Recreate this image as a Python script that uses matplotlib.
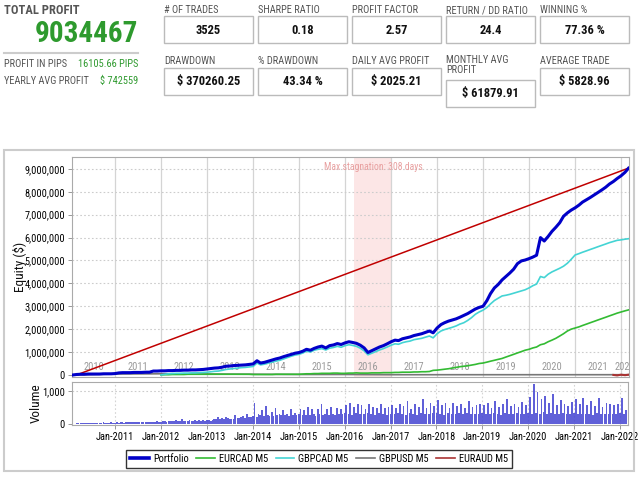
import matplotlib
matplotlib.use('Agg')
import matplotlib.pyplot as plt
import matplotlib.dates as mdates
import pandas as pd
from matplotlib.ticker import FuncFormatter
from matplotlib.patches import Rectangle
from matplotlib.lines import Line2D

plt.rcParams['font.family'] = ['Roboto Condensed', 'DejaVu Sans']
plt.rcParams['font.stretch'] = 'condensed'

# ---------------- data ----------------
total_profit = "9034467"
pips_profit = "16105.66 PIPS"
yearly_avg = "$ 742559"

stat_labels_top = ['# OF TRADES', 'SHARPE RATIO', 'PROFIT FACTOR', 'RETURN / DD RATIO', 'WINNING %']
stat_values_top = ['3525', '0.18', '2.57', '24.4', '77.36 %']
stat_labels_bot = ['DRAWDOWN', '% DRAWDOWN', 'DAILY AVG PROFIT', 'MONTHLY AVG\nPROFIT', 'AVERAGE TRADE']
stat_values_bot = ['$ 370260.25', '43.34 %', '$ 2025.21', '$ 61879.91', '$ 5828.96']

# Portfolio equity (millions $), monthly from Feb 2010 to Mar 2022
portfolio_start = '2010-02-01'
portfolio = [
    0.00, 0.02, 0.03, 0.03, 0.04, 0.04, 0.04, 0.04, 0.05, 0.05, 0.05,                # 2010
    0.06, 0.09, 0.10, 0.10, 0.10, 0.11, 0.11, 0.11, 0.12, 0.12, 0.17, 0.17,          # 2011
    0.18, 0.18, 0.19, 0.19, 0.20, 0.20, 0.21, 0.21, 0.22, 0.22, 0.23, 0.24,          # 2012
    0.26, 0.28, 0.30, 0.31, 0.34, 0.38, 0.39, 0.41, 0.42, 0.43, 0.44, 0.46,          # 2013
    0.48, 0.62, 0.52, 0.55, 0.60, 0.65, 0.70, 0.74, 0.80, 0.85, 0.90, 0.95,          # 2014
    0.98, 1.04, 1.12, 1.08, 1.16, 1.22, 1.26, 1.18, 1.28, 1.31, 1.37, 1.33,          # 2015
    1.40, 1.45, 1.42, 1.38, 1.30, 1.18, 0.98, 1.06, 1.14, 1.22, 1.28, 1.36,          # 2016
    1.45, 1.52, 1.50, 1.58, 1.62, 1.66, 1.72, 1.76, 1.80, 1.86, 1.92, 1.84,          # 2017
    2.05, 2.20, 2.28, 2.35, 2.40, 2.45, 2.52, 2.60, 2.68, 2.78, 2.88, 2.95,          # 2018
    3.00, 3.25, 3.55, 3.80, 3.95, 4.15, 4.30, 4.45, 4.62, 4.86, 4.98, 5.02,          # 2019
    5.08, 5.15, 5.23, 6.00, 5.85, 6.05, 6.27, 6.45, 6.65, 6.93, 7.08, 7.20,          # 2020
    7.30, 7.42, 7.55, 7.65, 7.75, 7.86, 7.97, 8.08, 8.20, 8.34, 8.45, 8.58,          # 2021
    8.70, 8.85, 9.03,                                                              # 2022
]

# GBPCAD M5 and EURCAD M5 (millions $), monthly from Jan 2012
strategy_start = '2012-01-01'
gbpcad = [
    0.00, 0.03, 0.05, 0.06, 0.07, 0.07, 0.08, 0.08, 0.09, 0.09, 0.10, 0.11,          # 2012
    0.12, 0.14, 0.16, 0.17, 0.20, 0.24, 0.26, 0.28, 0.30, 0.32, 0.33, 0.35,          # 2013
    0.37, 0.52, 0.44, 0.47, 0.52, 0.56, 0.60, 0.64, 0.70, 0.76, 0.82, 0.87,          # 2014
    0.90, 0.96, 1.04, 1.00, 1.08, 1.12, 1.15, 1.09, 1.17, 1.20, 1.25, 1.21,          # 2015
    1.28, 1.32, 1.29, 1.25, 1.17, 1.05, 0.88, 0.95, 1.02, 1.09, 1.15, 1.22,          # 2016
    1.30, 1.36, 1.34, 1.41, 1.45, 1.48, 1.54, 1.57, 1.60, 1.65, 1.70, 1.62,          # 2017
    1.80, 1.92, 1.98, 2.03, 2.08, 2.14, 2.22, 2.28, 2.38, 2.50, 2.65, 2.75,          # 2018
    2.83, 2.95, 3.10, 3.25, 3.35, 3.45, 3.48, 3.52, 3.57, 3.62, 3.67, 3.72,          # 2019
    3.80, 3.90, 3.97, 4.30, 4.25, 4.40, 4.50, 4.58, 4.66, 4.75, 4.88, 5.05,          # 2020
    5.24, 5.30, 5.36, 5.42, 5.48, 5.54, 5.60, 5.66, 5.72, 5.78, 5.83, 5.88,          # 2021
    5.90, 5.93, 5.95,                                                              # 2022
]
eurcad = [
    0.00, 0.01, 0.01, 0.02, 0.02, 0.02, 0.02, 0.03, 0.03, 0.03, 0.03, 0.03,          # 2012
    0.03, 0.03, 0.03, 0.03, 0.03, 0.03, 0.03, 0.03, 0.03, 0.03, 0.03, 0.03,          # 2013
    0.02, 0.02, 0.02, 0.02, 0.02, 0.02, 0.03, 0.03, 0.03, 0.03, 0.03, 0.03,          # 2014
    0.03, 0.04, 0.05, 0.05, 0.06, 0.06, 0.07, 0.07, 0.07, 0.08, 0.08, 0.07,          # 2015
    0.07, 0.08, 0.08, 0.09, 0.08, 0.08, 0.08, 0.09, 0.09, 0.09, 0.10, 0.10,          # 2016
    0.10, 0.11, 0.11, 0.12, 0.12, 0.12, 0.13, 0.13, 0.14, 0.14, 0.15, 0.20,          # 2017
    0.21, 0.23, 0.25, 0.27, 0.30, 0.33, 0.36, 0.38, 0.40, 0.43, 0.46, 0.50,          # 2018
    0.52, 0.56, 0.60, 0.64, 0.68, 0.72, 0.78, 0.84, 0.90, 0.96, 1.02, 1.08,          # 2019
    1.12, 1.18, 1.22, 1.32, 1.36, 1.45, 1.52, 1.60, 1.70, 1.80, 1.92, 2.00,          # 2020
    2.05, 2.10, 2.16, 2.22, 2.28, 2.34, 2.40, 2.46, 2.52, 2.58, 2.64, 2.70,          # 2021
    2.75, 2.80, 2.84,                                                              # 2022
]

# GBPUSD M5 (millions $), yearly
gbpusd_dates = ['2010-02-01', '2011-01-01', '2012-01-01', '2013-01-01', '2014-01-01',
                '2015-01-01', '2016-01-01', '2017-01-01', '2018-01-01', '2019-01-01',
                '2020-01-01', '2021-01-01', '2022-01-01', '2022-03-01']
gbpusd = [0.00, 0.04, 0.05, 0.04, 0.03, 0.02, 0.02, 0.01, 0.01, 0.01, 0.01, 0.01, 0.01, 0.01]

# EURAUD M5 (millions $)
euraud_dates = ['2021-11-01', '2021-12-01', '2022-01-01', '2022-02-01', '2022-03-01']
euraud = [0.00, -0.02, 0.01, -0.01, 0.01]

# ideal straight line
ideal_dates = ['2010-03-01', '2022-03-01']
ideal_values = [0.0, 9.034467]

stagnation = ('2016-03-10', '2017-01-12')
stagnation_text = 'Max stagnation: 308 days'

# Volume, semi-monthly from Mar 2010 to Feb 2022
volume_start = '2010-03-01'
volume = [
    30, 35, 30, 40, 35, 30, 40, 45, 35, 40, 30, 45, 40, 35, 50, 40, 45, 35, 50, 45,
    45, 50, 40, 55, 60, 45, 50, 65, 55, 50, 60, 70, 55, 60, 50, 65, 70, 60, 75, 65, 70, 60, 80, 75,
    70, 80, 90, 75, 85, 100, 80, 95, 110, 90, 85, 150, 95, 100, 90, 120, 105, 95, 130, 100, 110, 90, 120, 105,
    110, 120, 100, 130, 150, 140, 210, 160, 180, 150, 200, 170, 150, 140, 160, 280, 190, 170, 210, 250, 180, 300, 220, 200,
    250, 640, 200, 300, 260, 420, 230, 550, 280, 240, 350, 250, 480, 270, 300, 260, 420, 280, 310, 250, 450, 270, 330, 280,
    300, 450, 260, 430, 270, 520, 280, 460, 300, 250, 440, 290, 600, 270, 310, 460, 280, 520, 300, 260, 470, 290, 440, 310,
    320, 580, 300, 650, 280, 500, 330, 620, 300, 560, 290, 450, 340, 600, 310, 520, 280, 470, 330, 610, 300, 480, 270, 520,
    310, 560, 290, 480, 330, 620, 300, 540, 280, 700, 320, 460, 300, 590, 280, 520, 340, 760, 310, 470, 290, 650, 320, 540,
    330, 720, 300, 560, 280, 630, 320, 480, 310, 650, 290, 540, 330, 600, 300, 470, 320, 690, 290, 520, 310, 580, 300, 620,
    320, 560, 290, 650, 310, 480, 340, 700, 300, 520, 280, 600, 330, 760, 310, 540, 290, 620, 320, 500, 300, 680, 310, 560,
    330, 820, 300, 1200, 340, 980, 310, 760, 350, 860, 300, 640, 330, 900, 310, 580, 290, 720, 320, 620, 300, 540, 310, 680,
    320, 760, 300, 620, 290, 800, 310, 560, 300, 700, 280, 540, 320, 780, 300, 520, 290, 640, 310, 600, 300, 560, 290, 620,
    320, 780, 300, 420,
]

legend_labels = ['Portfolio', 'EURCAD M5', 'GBPCAD M5', 'GBPUSD M5', 'EURAUD M5']

# ---------------- figure ----------------
W, H = 640, 480
fig = plt.figure(figsize=(6.4, 4.8), dpi=100)
fig.patch.set_facecolor('white')

def fx(x):
    return x / W

def fy(y):
    return 1 - y / H

LABEL_C = '#555555'
GREEN_C = '#2f9a2f'

# header left block
fig.text(fx(4), fy(10), 'TOTAL PROFIT', fontsize=9, fontweight='bold', color='#555555', ha='left', va='center')
fig.text(fx(138), fy(34), total_profit, fontsize=21, fontweight='bold', color='#2e9a2e', ha='right', va='center')
fig.add_artist(Line2D([fx(4), fx(138)], [fy(53), fy(53)], color='#cccccc', lw=1.5, transform=fig.transFigure))
fig.text(fx(4), fy(64), 'PROFIT IN PIPS', fontsize=7.5, color=LABEL_C, ha='left', va='center')
fig.text(fx(138), fy(64), pips_profit, fontsize=7.5, color=GREEN_C, ha='right', va='center')
fig.text(fx(4), fy(81), 'YEARLY AVG PROFIT', fontsize=7.5, color=LABEL_C, ha='left', va='center')
fig.text(fx(138), fy(81), yearly_avg, fontsize=7.5, color=GREEN_C, ha='right', va='center')

box_x = [164, 258, 352, 446, 540]
box_w = 89
for i in range(5):
    x0 = box_x[i]
    # top row
    fig.text(fx(x0), fy(10), stat_labels_top[i], fontsize=7.5, color=LABEL_C, ha='left', va='center')
    fig.add_artist(Rectangle((fx(x0), fy(43)), box_w / W, 27 / H, transform=fig.transFigure,
                             facecolor='white', edgecolor='#bbbbbb', lw=1))
    fig.text(fx(x0 + box_w / 2), fy(30), stat_values_top[i], fontsize=9, fontweight='bold',
             color='#111111', ha='center', va='center')
    # bottom row
    if '\n' in stat_labels_bot[i]:
        fig.text(fx(x0), fy(55), stat_labels_bot[i], fontsize=7.5, color=LABEL_C, ha='left', va='top',
                 linespacing=1.05)
        top, bot = 80, 107
    else:
        fig.text(fx(x0), fy(61), stat_labels_bot[i], fontsize=7.5, color=LABEL_C, ha='left', va='center')
        top, bot = 68, 95
    fig.add_artist(Rectangle((fx(x0), fy(bot)), box_w / W, (bot - top) / H, transform=fig.transFigure,
                             facecolor='white', edgecolor='#bbbbbb', lw=1))
    fig.text(fx(x0 + box_w / 2), fy((top + bot) / 2), stat_values_bot[i], fontsize=9, fontweight='bold',
             color='#111111', ha='center', va='center')

# outer chart frame
fig.add_artist(Rectangle((fx(4), fy(471)), 630 / W, 321 / H, transform=fig.transFigure,
                         facecolor='none', edgecolor='#cccccc', lw=1.5))

# ---------------- main equity axes ----------------
ax = fig.add_axes([fx(72), fy(377), 557 / W, 220 / H])
xmin = pd.Timestamp('2010-01-24')
xmax = pd.Timestamp('2022-03-05')

p_dates = pd.date_range(portfolio_start, periods=len(portfolio), freq='MS')
s_dates = pd.date_range(strategy_start, periods=len(gbpcad), freq='MS')

ax.axvspan(pd.Timestamp(stagnation[0]), pd.Timestamp(stagnation[1]), color='#fce6e6', zorder=0, lw=0)
for yr in range(2011, 2023):
    ax.axvline(pd.Timestamp(f'{yr}-01-01'), color='#d4d4d4', lw=0.9, zorder=0.5)
for v in range(1, 10):
    ax.axhline(v, color='#cccccc', lw=0.8, ls=(0, (1.5, 2)), zorder=0.5)

ax.plot(pd.to_datetime(ideal_dates), ideal_values, color='#c00000', lw=1.1, zorder=2)
ax.plot(pd.to_datetime(gbpusd_dates), gbpusd, color='#777777', lw=1.2, zorder=2)
ax.plot(s_dates, eurcad, color='#33bb33', lw=1.2, zorder=3)
ax.plot(s_dates, gbpcad, color='#44d4d4', lw=1.2, zorder=3)
ax.plot(pd.to_datetime(euraud_dates), euraud, color='#aa3333', lw=1.5, zorder=3)
ax.plot(p_dates, portfolio, color='#0000c8', lw=2.2, zorder=4)

# year labels inside, centred on the visible part of each year
for yr in range(2010, 2023):
    a = max(pd.Timestamp(f'{yr}-01-01'), xmin)
    b = min(pd.Timestamp(f'{yr + 1}-01-01'), xmax)
    mid = a + (b - a) / 2
    ax.text(mid, 0.35, str(yr), fontsize=7.5, color='#999999', ha='center', va='center',
            clip_on=True, zorder=1)

ax.text(pd.Timestamp('2016-08-10'), 9.1, stagnation_text, fontsize=7, color='#e8a0a0',
        ha='center', va='center', zorder=1)

ax.set_xlim(xmin, xmax)
ax.set_ylim(-0.09, 9.52)
ax.set_yticks(range(0, 10))
ax.yaxis.set_major_formatter(FuncFormatter(lambda v, p: f'{v * 1e6:,.0f}'))
ax.tick_params(axis='y', labelsize=7.5, length=3, width=0.6, color='#888888', pad=2)
ax.tick_params(axis='x', bottom=False, labelbottom=False)
for s in ax.spines.values():
    s.set_color('#aaaaaa')
    s.set_linewidth(0.8)
fig.text(fx(20), fy(267), 'Equity ($)', rotation=90, fontsize=9.5, ha='center', va='center', color='#111111')

# ---------------- volume axes ----------------
ax2 = fig.add_axes([fx(72), fy(425), 556 / W, 43 / H])
v_dates = pd.date_range(volume_start, periods=len(volume), freq='SMS')
ax2.bar(v_dates, volume, width=14, color='#4444d2', alpha=0.85, lw=0, zorder=2)
for yr in range(2011, 2023):
    ax2.axvline(pd.Timestamp(f'{yr}-01-01'), color='#d4d4d4', lw=0.8, ls=(0, (1.5, 2)), zorder=0.5)
ax2.axhline(1000, color='#cccccc', lw=0.8, ls=(0, (1.5, 2)), zorder=0.5)
ax2.set_xlim(xmin, xmax)
ax2.set_ylim(-30, 1270)
ax2.set_yticks([0, 1000])
ax2.yaxis.set_major_formatter(FuncFormatter(lambda v, p: f'{v:,.0f}'))
ax2.set_xticks([pd.Timestamp(f'{yr}-01-01') for yr in range(2011, 2023)])
ax2.xaxis.set_major_formatter(mdates.DateFormatter('%b-%Y'))
ax2.tick_params(axis='both', labelsize=7.5, length=3, width=0.6, color='#888888', pad=2)
for s in ax2.spines.values():
    s.set_color('#aaaaaa')
    s.set_linewidth(0.8)
fig.text(fx(36), fy(403), 'Volume', rotation=90, fontsize=9.5, ha='center', va='center', color='#111111')

# legend
handles = [
    Line2D([], [], color='#0000c8', lw=2.6),
    Line2D([], [], color='#33bb33', lw=1.2),
    Line2D([], [], color='#44d4d4', lw=1.2),
    Line2D([], [], color='#777777', lw=1.2),
    Line2D([], [], color='#aa3333', lw=1.2),
]
leg = fig.legend(handles, legend_labels, loc='center', bbox_to_anchor=(fx(319), fy(459)), ncol=5,
                 frameon=True, fancybox=False, fontsize=7.5, handlelength=1.8, columnspacing=0.7,
                 handletextpad=0.4, borderpad=0.35)
leg.get_frame().set_edgecolor('black')
leg.get_frame().set_linewidth(1.0)

fig.savefig('out.png', dpi=100)
